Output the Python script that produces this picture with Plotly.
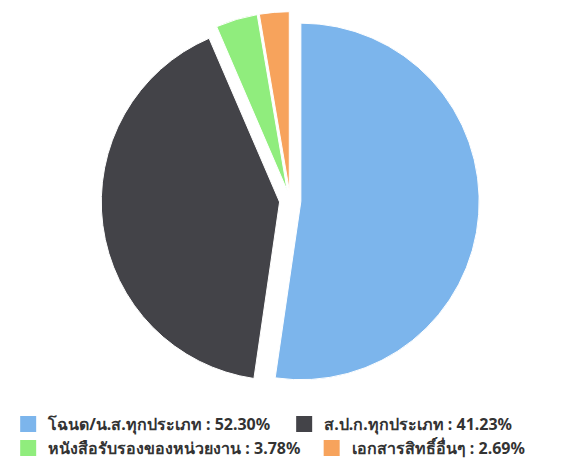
import plotly.graph_objects as go

labels = [
    "โฉนด/น.ส.ทุกประเภท : 52.30%",
    "ส.ป.ก.ทุกประเภท : 41.23%",
    "หนังสือรับรองของหน่วยงาน : 3.78%",
    "เอกสารสิทธิ์อื่นๆ : 2.69%",
]
values = [52.30, 41.23, 3.78, 2.69]
colors = ["#7cb5ec", "#434348", "#90ed7d", "#f7a35c"]

W, H = 561, 462

fig = go.Figure(go.Pie(
    labels=labels,
    values=values,
    sort=False,
    direction="clockwise",
    rotation=0,
    pull=[0.06] * len(values),
    marker=dict(colors=colors, line=dict(color="white", width=1)),
    textinfo="none",
    hoverinfo="label",
    showlegend=False,
    domain=dict(x=[0.151, 0.837], y=[0.166, 1.0]),
))

# legend entries (Highcharts-style squares), one legend box per entry
legend_pos = [(22, 416), (303, 416), (22, 440), (331, 440)]  # box centre px
legend_names = ["legend", "legend2", "legend3", "legend4"]
for lab, col, ln in zip(labels, colors, legend_names):
    fig.add_trace(go.Scatter(
        x=[None], y=[None], mode="markers", name=lab,
        marker=dict(symbol="square", size=16, color=col),
        legend=ln, showlegend=True, hoverinfo="skip",
    ))

legend_style = dict(
    orientation="h", xanchor="left", yanchor="middle",
    font=dict(size=16, color="#333333", weight="bold"),
    bgcolor="rgba(0,0,0,0)",
)
lay = {}
for ln, (px, py) in zip(legend_names, legend_pos):
    lay[ln] = dict(legend_style, x=(px - 32) / W, y=1 - py / H)

fig.update_layout(
    width=W,
    height=H,
    margin=dict(l=0, r=0, t=0, b=0),
    paper_bgcolor="white",
    plot_bgcolor="white",
    font=dict(family="Noto Sans, sans-serif", size=16, color="#333333"),
    xaxis=dict(visible=False),
    yaxis=dict(visible=False),
    **lay,
)

fig.write_html("out.html")
